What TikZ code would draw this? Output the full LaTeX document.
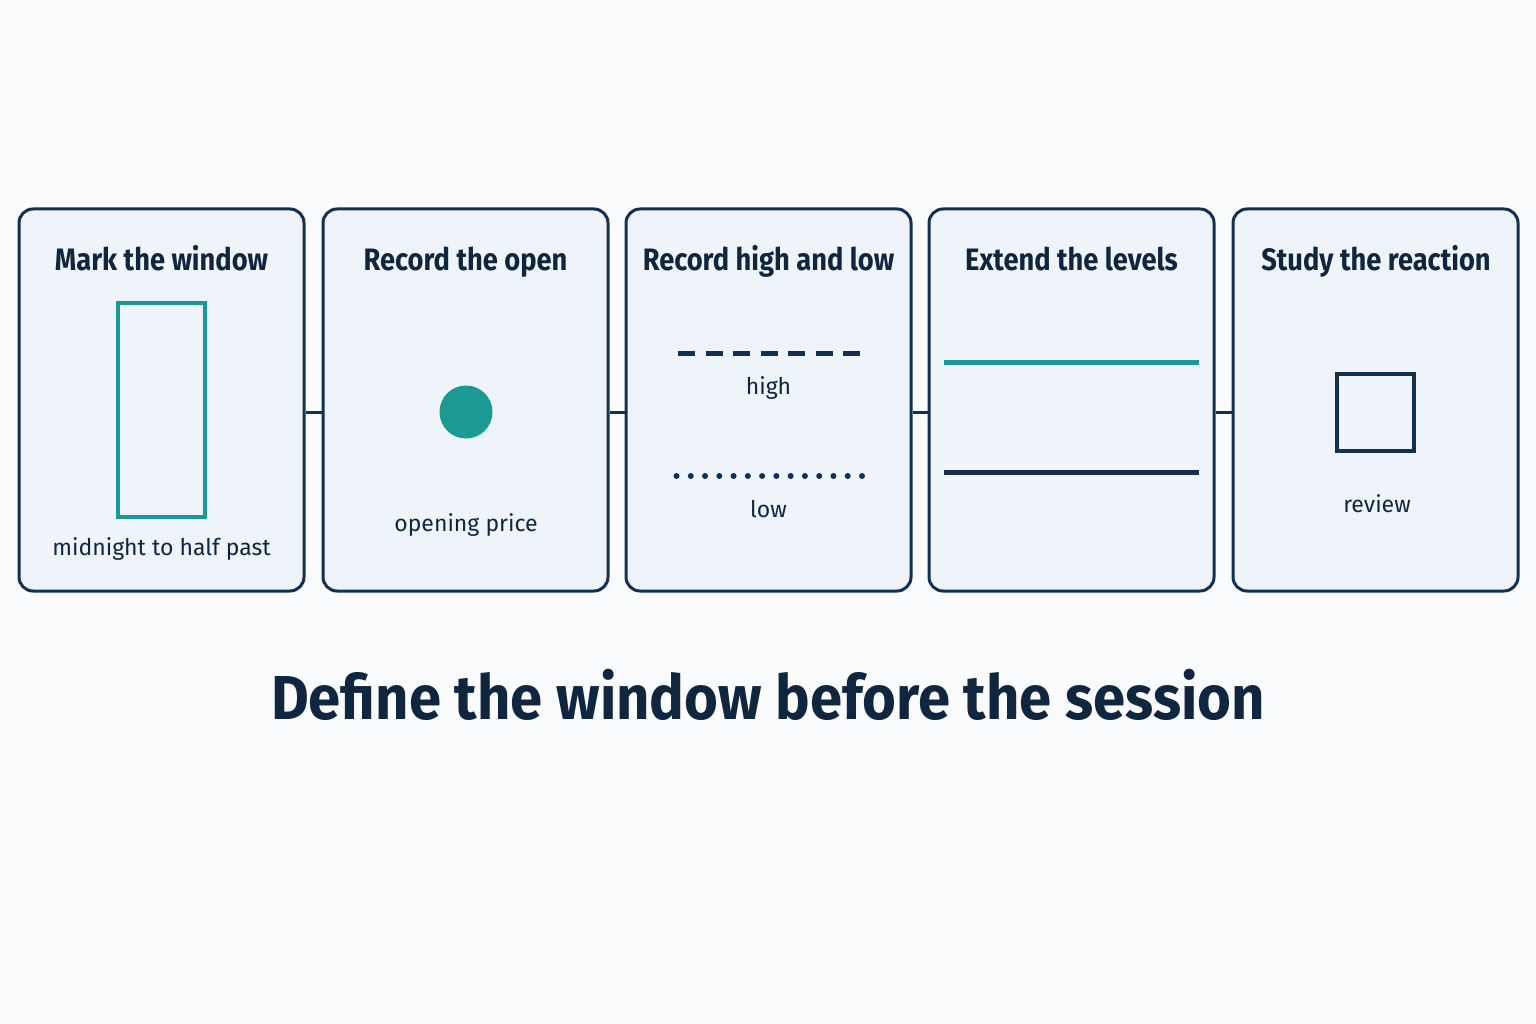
\documentclass[tikz,border=0pt]{standalone}
\usepackage{fontspec}
\setmainfont{Fira Sans}
\usetikzlibrary{calc}
\definecolor{navy}{HTML}{14304F}
\definecolor{ink}{HTML}{10263F}
\definecolor{teal2}{HTML}{1B9A94}
\definecolor{boxfill}{HTML}{EEF4FA}
\definecolor{bg}{HTML}{FAFBFC}
\newcommand{\hd}[1]{\scalebox{0.88}[1]{#1}}
\begin{document}
\begin{tikzpicture}[x=1pt,y=-1pt,
  card/.style={draw=navy,line width=3pt,fill=boxfill,rounded corners=14pt,minimum width=285pt,minimum height=382pt,inner sep=0pt},
  head/.style={text=ink,font=\fontsize{31}{36}\selectfont\bfseries,inner sep=0pt,anchor=base},
  lab/.style={text=ink,font=\fontsize{23}{28}\selectfont,inner sep=0pt,anchor=base},
  link/.style={draw=navy,line width=3pt}]
\fill[bg] (0,0) rectangle (1536,1024);
\useasboundingbox (0,0) rectangle (1536,1024);
% cards
\node[card] (b1) at (161.5,400) {};
\node[card] (b2) at (465.5,400) {};
\node[card] (b3) at (768.5,400) {};
\node[card] (b4) at (1071.5,400) {};
\node[card] (b5) at (1375.5,400) {};
% connectors
\foreach \a/\b in {b1/b2,b2/b3,b3/b4,b4/b5}
  \draw[link] ([yshift=-12pt]\a.east) -- ([yshift=-12pt]\b.west);
% headings
\node[head] (h1) at (161.5,271) {\hd{Mark the window}};
\node[head] (h2) at (465.5,271) {\hd{Record the open}};
\node[head] (h3) at (768.5,271) {\hd{Record high and low}};
\node[head] (h4) at (1071.5,271) {\hd{Extend the levels}};
\node[head] (h5) at (1376,271) {\hd{Study the reaction}};
% card 1
\node[draw=teal2,line width=4pt,minimum width=87pt,minimum height=214pt,inner sep=0pt] (win) at (161.5,410) {};
\node[lab] (l1) at (161.5,555) {midnight to half past};
% card 2
\node[circle,fill=teal2,minimum size=53pt,inner sep=0pt] (dot) at (466,412) {};
\node[lab] (l2) at (466,531) {opening price};
% card 3
\coordinate (hiA) at (678,353);
\coordinate (hiB) at (861,353);
\draw[navy,line width=5pt,dash pattern=on 17pt off 10.5pt] (hiA) -- (hiB);
\node[lab] (l3) at (768.5,394) {high};
\coordinate (loA) at (676.5,476);
\coordinate (loB) at (862,476);
\foreach \i in {0,...,13} \fill[navy] ($(loA)!\i/13!(loB)$) circle (3pt);
\node[lab] (l4) at (768.5,517) {low};
% card 4
\coordinate (tA) at (944,362);
\coordinate (tB) at (1199,362);
\coordinate (nA) at (944,472);
\coordinate (nB) at (1199,472);
\draw[teal2,line width=5pt] (tA) -- (tB);
\draw[navy,line width=5pt] (nA) -- (nB);
% card 5
\node[draw=navy,line width=4pt,minimum width=77pt,minimum height=77pt,inner sep=0pt] (sq) at (1375.5,412.5) {};
\node[lab] (l5) at (1377,512) {review};
% title
\node[text=ink,font=\fontsize{62}{72}\selectfont\bfseries,inner sep=0pt,anchor=base] (title) at (768,719) {\scalebox{0.936}[1]{Define the window before the session}};
\end{tikzpicture}
\end{document}
